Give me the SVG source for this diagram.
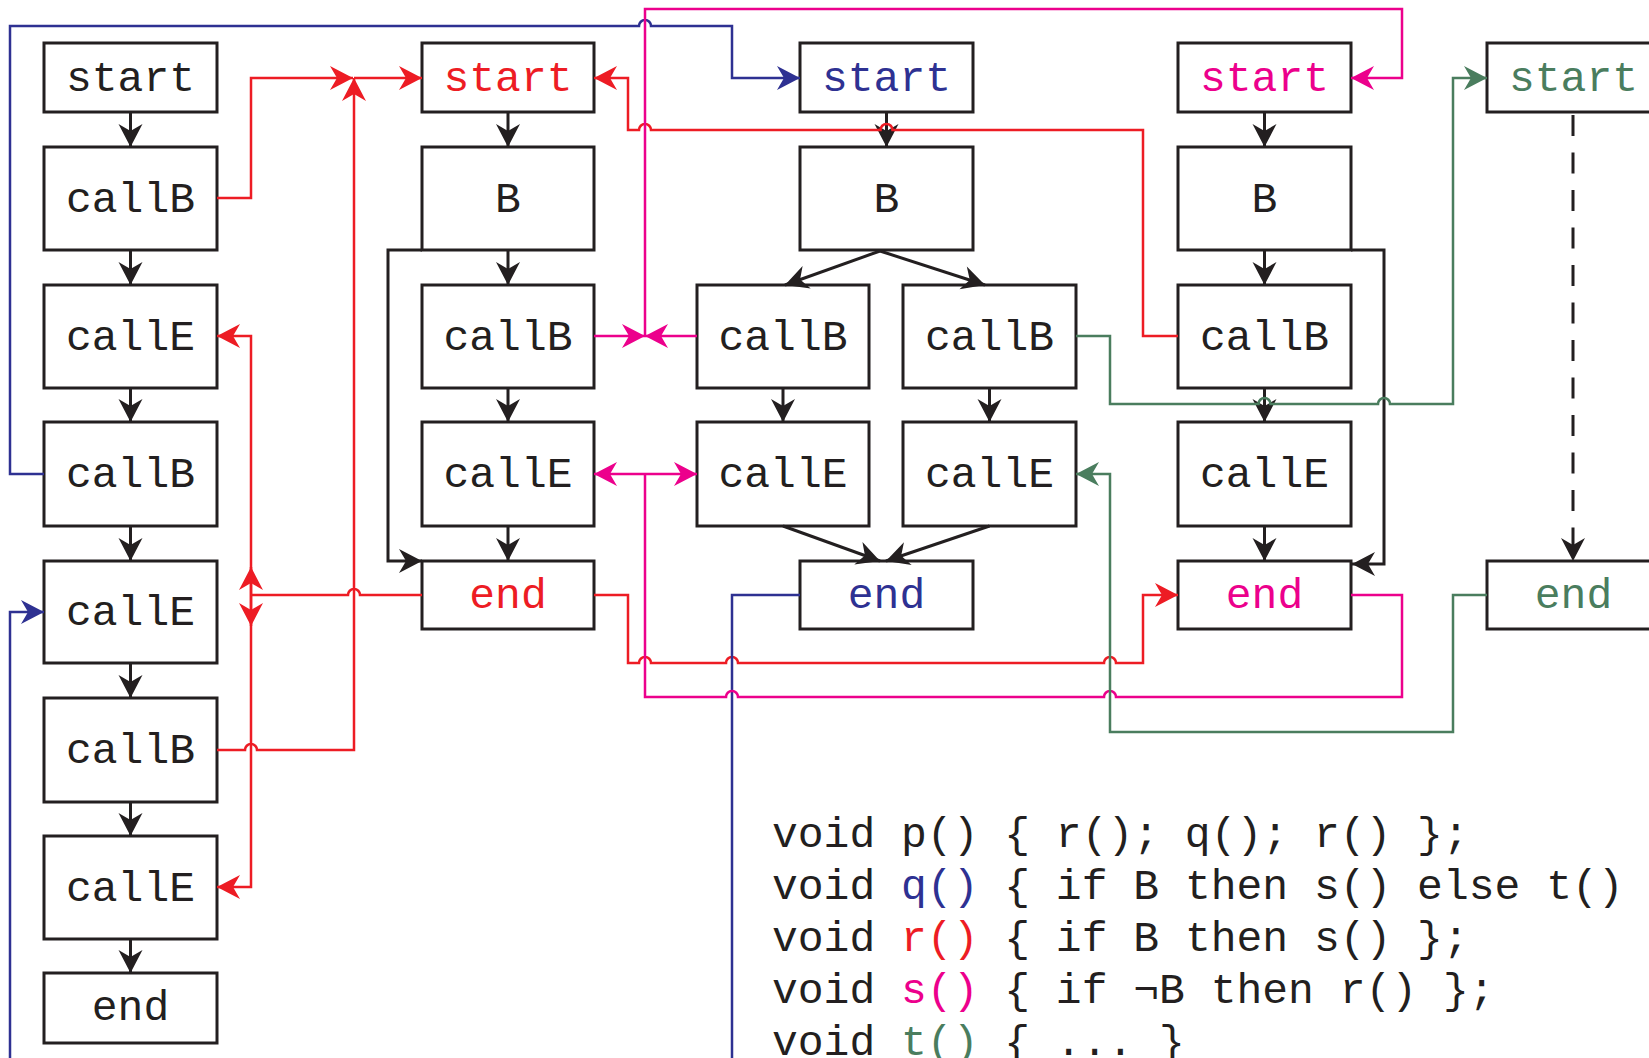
<svg xmlns="http://www.w3.org/2000/svg" width="1649" height="1058" viewBox="0 0 1649 1058">
<style>
.box{fill:#fff;stroke:#231F20;stroke-width:3}
.lbl{font-family:"Liberation Mono",monospace;font-size:43px;text-anchor:middle;fill:#231F20}
.code{font-family:"Liberation Mono",monospace;font-size:43px;fill:#231F20}
.blk{fill:none;stroke:#231F20;stroke-width:3}
.red{fill:none;stroke:#ED1C24;stroke-width:2.5}
.blu{fill:none;stroke:#2E3192;stroke-width:2.5}
.mag{fill:none;stroke:#EC008C;stroke-width:2.5}
.grn{fill:none;stroke:#4A7D5E;stroke-width:2.5}
.cr{fill:#ED1C24}.cb{fill:#2E3192}.cm{fill:#EC008C}.cg{fill:#4A7D5E}
</style>
<defs>
<marker id="ak" markerUnits="userSpaceOnUse" markerWidth="26" markerHeight="26" viewBox="-24 -13 26 26" refX="0" refY="0" orient="auto"><path d="M0,0 L-23,-12 L-16,0 L-23,12 Z" fill="#231F20"/></marker>
<marker id="ar" markerUnits="userSpaceOnUse" markerWidth="26" markerHeight="26" viewBox="-24 -13 26 26" refX="0" refY="0" orient="auto"><path d="M0,0 L-23,-12 L-16,0 L-23,12 Z" fill="#ED1C24"/></marker>
<marker id="ab" markerUnits="userSpaceOnUse" markerWidth="26" markerHeight="26" viewBox="-24 -13 26 26" refX="0" refY="0" orient="auto"><path d="M0,0 L-23,-12 L-16,0 L-23,12 Z" fill="#2E3192"/></marker>
<marker id="am" markerUnits="userSpaceOnUse" markerWidth="26" markerHeight="26" viewBox="-24 -13 26 26" refX="0" refY="0" orient="auto"><path d="M0,0 L-23,-12 L-16,0 L-23,12 Z" fill="#EC008C"/></marker>
<marker id="ag" markerUnits="userSpaceOnUse" markerWidth="26" markerHeight="26" viewBox="-24 -13 26 26" refX="0" refY="0" orient="auto"><path d="M0,0 L-23,-12 L-16,0 L-23,12 Z" fill="#4A7D5E"/></marker>
</defs>
<rect width="1649" height="1058" fill="#fff"/>

<g id="p">
<g id="p-start"><rect class="box" x="44" y="43" width="173" height="69"/><text class="lbl" x="130.5" y="90.5">start</text></g>
<g id="p-callB1"><rect class="box" x="44" y="147" width="173" height="103"/><text class="lbl" x="130.5" y="212">callB</text></g>
<g id="p-callE1"><rect class="box" x="44" y="285" width="173" height="103"/><text class="lbl" x="130.5" y="350">callE</text></g>
<g id="p-callB2"><rect class="box" x="44" y="422" width="173" height="104"/><text class="lbl" x="130.5" y="487">callB</text></g>
<g id="p-callE2"><rect class="box" x="44" y="561" width="173" height="102"/><text class="lbl" x="130.5" y="625">callE</text></g>
<g id="p-callB3"><rect class="box" x="44" y="698" width="173" height="104"/><text class="lbl" x="130.5" y="763">callB</text></g>
<g id="p-callE3"><rect class="box" x="44" y="836" width="173" height="103"/><text class="lbl" x="130.5" y="901">callE</text></g>
<g id="p-end"><rect class="box" x="44" y="973" width="173" height="70"/><text class="lbl" x="130.5" y="1020">end</text></g>
</g>

<g id="r">
<g id="r-start"><rect class="box" x="422" y="43" width="172" height="69"/><text class="lbl cr" x="508" y="90.5">start</text></g>
<g id="r-B"><rect class="box" x="422" y="147" width="172" height="103"/><text class="lbl" x="508" y="212">B</text></g>
<g id="r-callB"><rect class="box" x="422" y="285" width="172" height="103"/><text class="lbl" x="508" y="350">callB</text></g>
<g id="r-callE"><rect class="box" x="422" y="422" width="172" height="104"/><text class="lbl" x="508" y="487">callE</text></g>
<g id="r-end"><rect class="box" x="422" y="561" width="172" height="68"/><text class="lbl cr" x="508" y="608">end</text></g>
</g>

<g id="q">
<g id="q-start"><rect class="box" x="800" y="43" width="173" height="69"/><text class="lbl cb" x="886.5" y="90.5">start</text></g>
<g id="q-B"><rect class="box" x="800" y="147" width="173" height="103"/><text class="lbl" x="886.5" y="212">B</text></g>
<g id="q-callB1"><rect class="box" x="697" y="285" width="172" height="103"/><text class="lbl" x="783" y="350">callB</text></g>
<g id="q-callB2"><rect class="box" x="903" y="285" width="173" height="103"/><text class="lbl" x="989.5" y="350">callB</text></g>
<g id="q-callE1"><rect class="box" x="697" y="422" width="172" height="104"/><text class="lbl" x="783" y="487">callE</text></g>
<g id="q-callE2"><rect class="box" x="903" y="422" width="173" height="104"/><text class="lbl" x="989.5" y="487">callE</text></g>
<g id="q-end"><rect class="box" x="800" y="561" width="173" height="68"/><text class="lbl cb" x="886.5" y="608">end</text></g>
</g>

<g id="s">
<g id="s-start"><rect class="box" x="1178" y="43" width="173" height="69"/><text class="lbl cm" x="1264.5" y="90.5">start</text></g>
<g id="s-B"><rect class="box" x="1178" y="147" width="173" height="103"/><text class="lbl" x="1264.5" y="212">B</text></g>
<g id="s-callB"><rect class="box" x="1178" y="285" width="173" height="103"/><text class="lbl" x="1264.5" y="350">callB</text></g>
<g id="s-callE"><rect class="box" x="1178" y="422" width="173" height="104"/><text class="lbl" x="1264.5" y="487">callE</text></g>
<g id="s-end"><rect class="box" x="1178" y="561" width="173" height="68"/><text class="lbl cm" x="1264.5" y="608">end</text></g>
</g>

<g id="t">
<g id="t-start"><rect class="box" x="1487" y="43" width="173" height="69"/><text class="lbl cg" x="1573.5" y="90.5">start</text></g>
<g id="t-end"><rect class="box" x="1487" y="561" width="173" height="68"/><text class="lbl cg" x="1573.5" y="608">end</text></g>
</g>

<g id="connectors">
<g class="blk" marker-end="url(#ak)">
<path d="M130.5,112 V147"/><path d="M130.5,250 V285"/><path d="M130.5,388 V422"/><path d="M130.5,526 V561"/><path d="M130.5,663 V698"/><path d="M130.5,802 V836"/><path d="M130.5,939 V973"/>
<path d="M508,112 V147"/><path d="M508,250 V285"/><path d="M508,388 V422"/><path d="M508,526 V561"/>
<path d="M422,250 H388 V561 H422"/>
<path d="M886.5,112 V147"/>
<path d="M880,251 L785,285"/><path d="M880,251 L985,285"/>
<path d="M783,388 V422"/><path d="M989.5,388 V422"/>
<path d="M783,526 L880,561"/><path d="M989.5,526 L886,561"/>
<path d="M1264.5,112 V147"/><path d="M1264.5,250 V285"/><path d="M1264.5,388 V422"/><path d="M1264.5,526 V561"/>
<path d="M1351,250 H1384 V564 H1352"/>
<path d="M1573,115 V561" stroke-dasharray="21 16.5"/>
</g>
<g class="red">
<path d="M217,198 H251 V78 H353" marker-end="url(#ar)"/>
<path d="M217,750 H245 a6,6 0 0 1 12,0 H354 V78" marker-end="url(#ar)"/>
<path d="M354,78 H422" marker-end="url(#ar)"/>
<path d="M422,595 H360 a6,6 0 0 0 -12,0 H251"/>
<path d="M251,595 V336 H217" marker-end="url(#ar)"/>
<path d="M251,595 V887 H217" marker-end="url(#ar)"/>
<path d="M251,595 V567" marker-end="url(#ar)"/>
<path d="M251,595 V626" marker-end="url(#ar)"/>
<path d="M594,595 H628 V663 H639 a6,6 0 0 1 12,0 H726 a6,6 0 0 1 12,0 H1104 a6,6 0 0 1 12,0 H1143 V595 H1178" marker-end="url(#ar)"/>
<path d="M1178,336 H1143 V130 H892.5 a6,6 0 0 0 -12,0 H651 a6,6 0 0 0 -12,0 H628 V78 H594" marker-end="url(#ar)"/>
</g>
<g class="blu">
<path d="M44,474 H10 V26 H639 a6,6 0 0 1 12,0 H732 V78 H800" marker-end="url(#ab)"/>
<path d="M800,595 H732 V1100 H10 V612 H44" marker-end="url(#ab)"/>
</g>
<g class="mag">
<path d="M594,336 H645" marker-end="url(#am)"/>
<path d="M697,336 H645" marker-end="url(#am)"/>
<path d="M645,336 V9 H1402 V78 H1351" marker-end="url(#am)"/>
<path d="M1351,595 H1402 V697 H1116 a6,6 0 0 0 -12,0 H738 a6,6 0 0 0 -12,0 H645 V474"/>
<path d="M645,474 H594" marker-end="url(#am)"/>
<path d="M645,474 H697" marker-end="url(#am)"/>
</g>
<g class="grn">
<path d="M1076,336 H1110 V404 H1258.5 a6,6 0 0 1 12,0 H1378 a6,6 0 0 1 12,0 H1453 V78 H1487" marker-end="url(#ag)"/>
<path d="M1487,595 H1453 V732 H1110 V474 H1076" marker-end="url(#ag)"/>
</g>
</g>

<g id="code">
<text class="code" x="772" y="847">void p() { r(); q(); r() };</text>
<text class="code" x="772" y="899">void <tspan class="cb">q()</tspan> { if B then s() else t()</text>
<text class="code" x="772" y="951">void <tspan class="cr">r()</tspan> { if B then s() };</text>
<text class="code" x="772" y="1003">void <tspan class="cm">s()</tspan> { if ¬B then r() };</text>
<text class="code" x="772" y="1055">void <tspan class="cg">t()</tspan> { ... }</text>
</g>
</svg>
